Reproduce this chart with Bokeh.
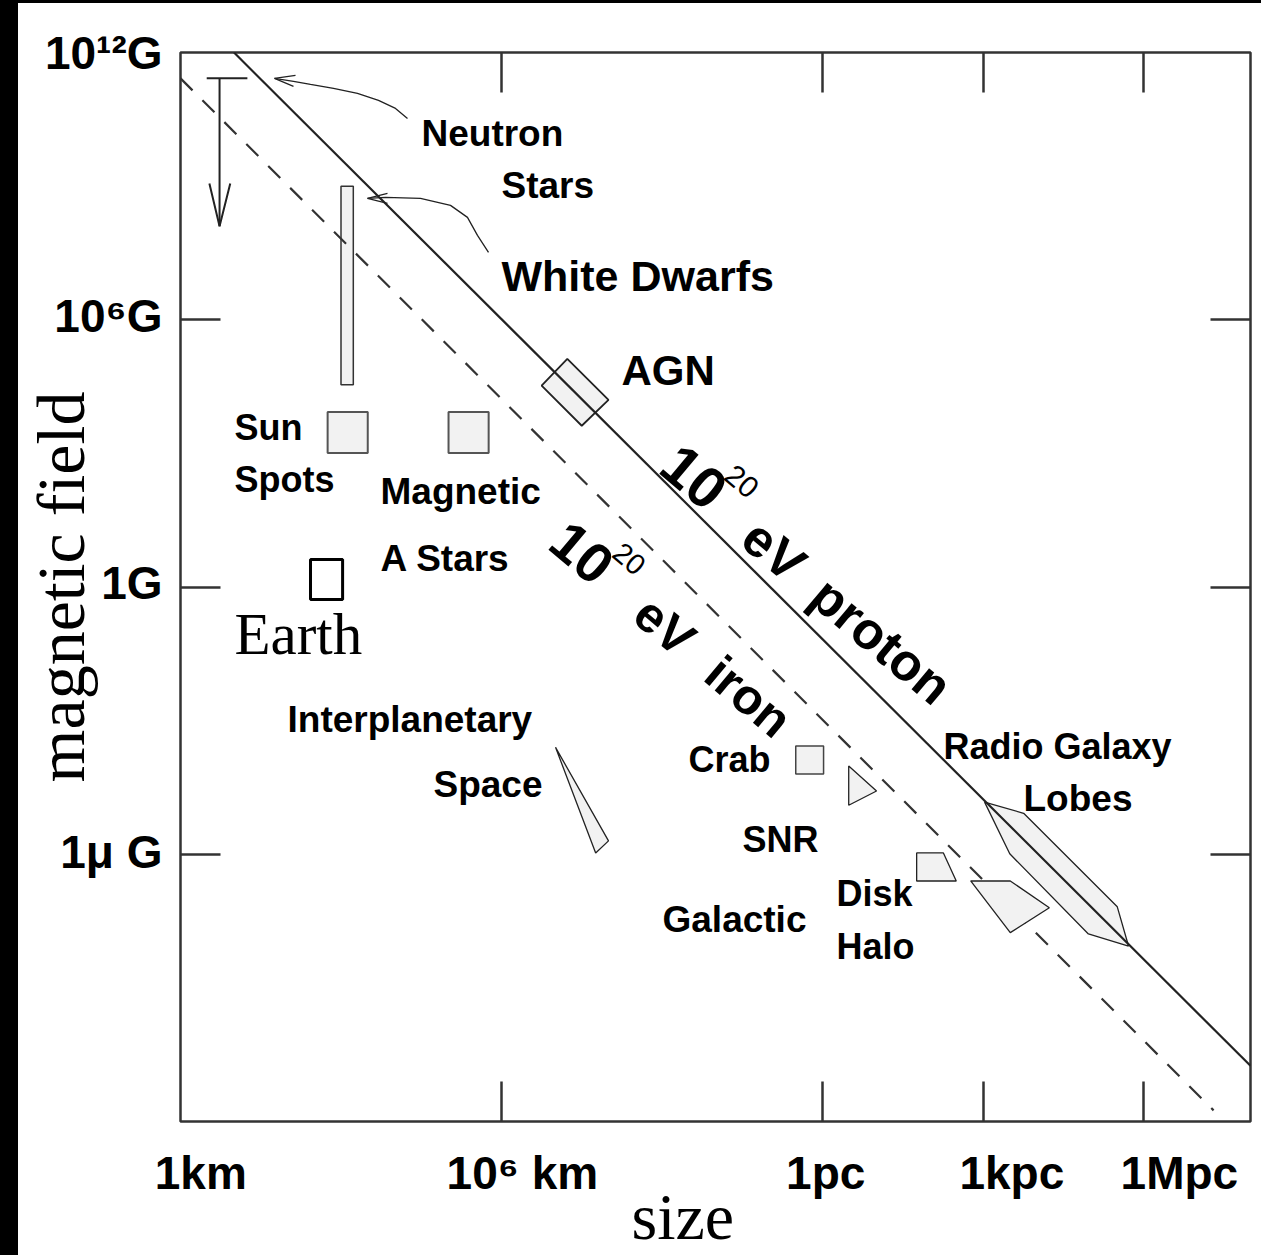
import math
from bokeh.plotting import figure
from bokeh.models import Range1d, LinearAxis, FixedTicker, Label, Div
from bokeh.layouts import row, column
from bokeh.embed import file_html
from bokeh.resources import INLINE

# ---------------- data  (x: log10(size / km), y: log10(B / gauss)) ----------------
x_ticks = [6, 12, 15, 18]          # 10^6 km, 1pc, 1kpc, 1Mpc (as placed in the figure)
y_ticks = [-6, 0, 6]               # 1uG, 1G, 10^6 G
x_tick_labels = ["1km", "10\u2076 km", "1pc", "1kpc", "1Mpc"]
x_label_pos = [0.38, 6.39, 12.06, 15.54, 18.67]
y_tick_labels = ["10\u00b9\u00b2G", "10\u2076G", "1G", "1\u03bc G"]
y_label_pos = [11.99, 6.09, 0.09, -5.95]
x_title, x_title_pos = "size", 9.39
y_title = "magnetic field"

proton_x = [1.0, 20.0]
proton_y = [12.0, -10.75]
iron_x = [0.0, 19.31]
iron_y = [11.42, -11.75]

# neutron-star upper-limit marker
ns_bar_x = [0.49, 1.25]
ns_bar_y = [11.42, 11.42]
ns_stem_x = [0.73, 0.73]
ns_stem_y = [11.42, 8.10]
ns_head_x = [0.54, 0.73, 0.93]
ns_head_y = [9.06, 8.10, 9.06]

# rectangles: (left, right, bottom, top)
white_dwarfs = (3.00, 3.23, 4.54, 9.00)
sun_spots = (2.75, 3.50, 3.01, 3.93)
magnetic_a_stars = (5.01, 5.76, 3.01, 3.93)
earth = (2.43, 3.03, -0.28, 0.62)
crab = (11.50, 12.02, -4.20, -3.57)

# polygons
agn_x = [6.75, 7.23, 8.00, 7.50]
agn_y = [4.52, 5.12, 4.20, 3.62]
interplanetary_x = [7.01, 8.00, 7.76]
interplanetary_y = [-3.60, -5.70, -5.97]
snr_x = [12.49, 13.01, 12.49]
snr_y = [-4.02, -4.58, -4.90]
disk_x = [13.76, 14.26, 14.50, 13.76]
disk_y = [-5.97, -5.97, -6.60, -6.60]
halo_x = [14.77, 15.51, 16.24, 15.51]
halo_y = [-6.60, -6.60, -7.20, -7.76]
lobes_x = [15.03, 15.76, 17.51, 17.72, 16.97, 15.50]
lobes_y = [-4.83, -5.08, -7.18, -8.06, -7.79, -5.99]

# curved pointer arrows
ns_curve_x = [1.757, 2.112, 2.430, 2.860, 3.308, 3.701, 4.019, 4.243]
ns_curve_y = [11.417, 11.350, 11.283, 11.193, 11.081, 10.924, 10.745, 10.521]
ns_curve_head_x = [2.150, 1.757, 2.112]
ns_curve_head_y = [11.485, 11.417, 11.238]
wd_curve_x = [3.495, 3.832, 4.486, 5.047, 5.364, 5.551, 5.757]
wd_curve_y = [8.725, 8.748, 8.725, 8.568, 8.299, 7.895, 7.514]
wd_curve_head_x = [3.869, 3.495, 3.869]
wd_curve_head_y = [8.837, 8.725, 8.613]

# ---------------- figure ----------------
X0, X1, Y0, Y1 = 0, 20, -12, 12
FIG_W, FIG_H = 1243, 1252
ML, MR, MT, MB = 162, 11, 49, 133
SANS = "Liberation Sans"
SERIF = "Liberation Serif"
INK = "#333333"

p = figure(width=FIG_W, height=FIG_H, output_backend="svg", toolbar_location=None,
           x_axis_type=None, y_axis_type=None,
           x_range=Range1d(X0, X1), y_range=Range1d(Y0, Y1),
           min_border_left=ML, min_border_right=MR, min_border_top=MT, min_border_bottom=MB)
p.background_fill_color = "white"
p.border_fill_color = "white"
p.outline_line_color = INK
p.outline_line_width = 2.5
p.grid.visible = False

def base_axis(ax):
    ax.axis_line_color = None
    ax.minor_tick_in = 0
    ax.minor_tick_out = 0
    ax.major_tick_out = 0

# bottom: tick marks as minor ticks, text labels as major ticks
bottom_ax = LinearAxis(ticker=FixedTicker(ticks=x_label_pos, minor_ticks=x_ticks),
                       major_label_overrides=dict(zip(x_label_pos, x_tick_labels)))
base_axis(bottom_ax)
bottom_ax.major_tick_in = 0
bottom_ax.major_tick_line_color = None
bottom_ax.minor_tick_in = 40
bottom_ax.minor_tick_line_color = INK
bottom_ax.minor_tick_line_width = 2.5
bottom_ax.major_label_text_font = SANS
bottom_ax.major_label_text_font_style = "bold"
bottom_ax.major_label_text_font_size = "46px"
bottom_ax.major_label_text_color = "black"
bottom_ax.major_label_standoff = 25

# second bottom axis carrying the axis title "size"
title_ax = LinearAxis(ticker=FixedTicker(ticks=[x_title_pos], minor_ticks=[]),
                      major_label_overrides={x_title_pos: x_title})
base_axis(title_ax)
title_ax.major_tick_in = 0
title_ax.major_tick_line_color = None
title_ax.major_label_text_font = SERIF
title_ax.major_label_text_font_style = "normal"
title_ax.major_label_text_font_size = "66px"
title_ax.major_label_text_color = "black"
title_ax.major_label_standoff = -22

# left: labels + inward minor ticks, axis title
left_ax = LinearAxis(ticker=FixedTicker(ticks=y_label_pos, minor_ticks=y_ticks),
                     major_label_overrides=dict(zip(y_label_pos, y_tick_labels)))
base_axis(left_ax)
left_ax.major_tick_in = 0
left_ax.major_tick_line_color = None
left_ax.minor_tick_in = 40
left_ax.minor_tick_line_color = INK
left_ax.minor_tick_line_width = 2.5
left_ax.major_label_text_font = SANS
left_ax.major_label_text_font_style = "bold"
left_ax.major_label_text_font_size = "46px"
left_ax.major_label_text_color = "black"
left_ax.major_label_standoff = 18
left_ax.axis_label = y_title
left_ax.axis_label_text_font = SERIF
left_ax.axis_label_text_font_style = "normal"
left_ax.axis_label_text_font_size = "68px"
left_ax.axis_label_text_color = "black"
left_ax.axis_label_standoff = -57

# top / right: inward ticks only
top_ax = LinearAxis(ticker=FixedTicker(ticks=x_ticks))
right_ax = LinearAxis(ticker=FixedTicker(ticks=y_ticks))
for ax in (top_ax, right_ax):
    base_axis(ax)
    ax.major_tick_in = 40
    ax.major_tick_line_color = INK
    ax.major_tick_line_width = 2.5
    ax.major_label_text_color = None

p.add_layout(bottom_ax, "below")
p.add_layout(title_ax, "below")
p.add_layout(left_ax, "left")
p.add_layout(top_ax, "above")
p.add_layout(right_ax, "right")

FILL = "#f2f2f2"

def rect(r, fill=FILL, line=INK, lw=1.5):
    p.quad(left=[r[0]], right=[r[1]], bottom=[r[2]], top=[r[3]],
           fill_color=fill, line_color=line, line_width=lw)

# objects under the iron line
rect(white_dwarfs, lw=1.5)
rect(sun_spots, line="#555555", lw=2)
rect(magnetic_a_stars, line="#555555", lw=2)
rect(earth, fill="white", line="black", lw=3)

# 10^20 eV iron (dashed)
p.line(iron_x, iron_y, line_color=INK, line_width=2.2, line_dash="17 14")

# other source regions
rect(crab, line="#444444", lw=1.5)
p.patch(agn_x, agn_y, fill_color=FILL, line_color="#222222", line_width=1.8)
p.patch(interplanetary_x, interplanetary_y, fill_color=FILL, line_color="#222222", line_width=1.3)
p.patch(snr_x, snr_y, fill_color=FILL, line_color="#222222", line_width=1.3)
p.patch(disk_x, disk_y, fill_color=FILL, line_color="#222222", line_width=1.3)
p.patch(halo_x, halo_y, fill_color=FILL, line_color="#222222", line_width=1.3)
p.patch(lobes_x, lobes_y, fill_color=FILL, line_color="#222222", line_width=1.3)

# 10^20 eV proton (solid)
p.line(proton_x, proton_y, line_color="#222222", line_width=2.2)

# neutron-star marker
p.line(ns_bar_x, ns_bar_y, line_color="#222222", line_width=2)
p.line(ns_stem_x, ns_stem_y, line_color="#222222", line_width=2)
p.line(ns_head_x, ns_head_y, line_color="#222222", line_width=2)

# pointer arrows
for cx, cy, hx, hy in [(ns_curve_x, ns_curve_y, ns_curve_head_x, ns_curve_head_y),
                       (wd_curve_x, wd_curve_y, wd_curve_head_x, wd_curve_head_y)]:
    p.line(cx, cy, line_color="#222222", line_width=1.3)
    p.line(hx, hy, line_color="#222222", line_width=1.3)

# ---------------- in-frame annotations (page-pixel layout) ----------------
FRAME_LEFT_PAGE, FRAME_TOP_PAGE = 180, 52
PXU = (FIG_W - ML - MR) / (X1 - X0)
PYU = (FIG_H - MT - MB) / (Y1 - Y0)

def to_x(px):
    return X0 + (px - FRAME_LEFT_PAGE) / PXU

def to_y(py):
    return Y1 - (py - FRAME_TOP_PAGE) / PYU

def place(text, px, py, size, bold=True, font=SANS, angle=0):
    p.add_layout(Label(x=to_x(px), y=to_y(py), text=text, text_font=font,
                       text_font_size=f"{size}px",
                       text_font_style="bold" if bold else "normal",
                       text_color="black", angle=angle, angle_units="deg",
                       text_align="left", text_baseline="middle"))

def label(text, px, baseline, size, bold=True, font=SANS):
    place(text, px, baseline - 0.36 * size, size, bold, font)

label("Neutron", 421, 146, 37)
label("Stars", 501, 198, 37)
label("White Dwarfs", 501, 291, 43)
label("AGN", 621, 385, 42)
label("Sun", 234, 440, 36)
label("Spots", 234, 492, 36)
label("Magnetic", 380, 505, 37)
label("A Stars", 380, 572, 37)
label("Earth", 234, 655, 59, bold=False, font=SERIF)
label("Interplanetary", 287, 733, 37)
label("Space", 433, 798, 37)
label("Crab", 688, 773, 36)
label("SNR", 742, 853, 36)
label("Galactic", 662, 933, 37)
label("Disk", 836, 907, 36)
label("Halo", 836, 960, 36)
label("Radio Galaxy", 943, 760, 36)
label("Lobes", 1023, 812, 37)

# rotated line labels
def rotated(sx, sy, ang, pieces):
    a = math.radians(ang)
    d = (math.cos(a), math.sin(a))
    u = (math.sin(a), -math.cos(a))
    for text, along, up, size, bold in pieces:
        px = sx + along * d[0] + up * u[0]
        py = sy + along * d[1] + up * u[1]
        place(text, px, py, size, bold=bold, angle=-ang)

rotated(661, 456, 40, [("10", 6, 5, 58, True), ("20", 61, 32, 30, False),
                       ("eV", 115, 0, 52, True), ("proton", 205, 0, 52, True)])
rotated(554, 534, 40, [("10", 2, 3, 56, True), ("20", 57, 29, 29, False),
                       ("eV", 113, 0, 50, True), ("iron", 206, 0, 50, True)])

# black page edges of the original scan
top_strip = Div(width=1261, height=3, margin=0, styles={"background-color": "black"})
left_strip = Div(width=18, height=FIG_H, margin=0, styles={"background-color": "black"})
p.margin = 0
layout = column(top_strip, row(left_strip, p, spacing=0, margin=0), spacing=0, margin=0)

with open("out.html", "w") as f:
    f.write(file_html(layout, INLINE))
